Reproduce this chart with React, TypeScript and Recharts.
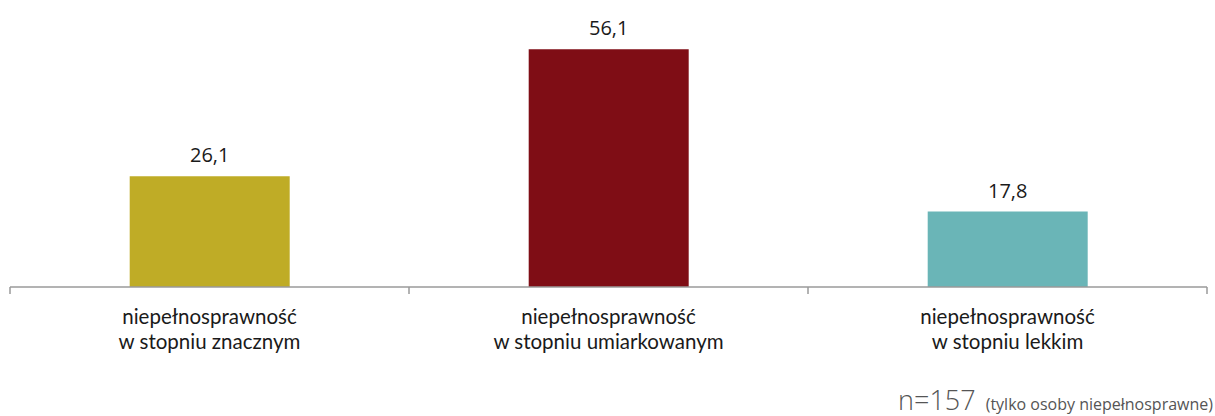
import { BarChart, Bar, XAxis, YAxis, LabelList, Cell } from "recharts";

const categories = [
    ["niepełnosprawność", "w stopniu znacznym"],
    ["niepełnosprawność", "w stopniu umiarkowanym"],
    ["niepełnosprawność", "w stopniu lekkim"],
];
const shares = [26.1, 56.1, 17.8];
const barColors = ["#BFAC26", "#7F0D15", "#6AB5B7"];

const data = categories.map((lines, i) => ({
    name: lines.join(" "),
    value: shares[i],
}));

const FONT = "'Open Sans', 'Noto Sans', sans-serif";
const LABEL_FONT = "Lato, 'Open Sans', sans-serif";
const WIDTH = 1215;
const HEIGHT = 416;
const MARGIN = { top: 0, right: 8, bottom: 128, left: 10 };
const BAND = (WIDTH - MARGIN.left - MARGIN.right) / categories.length;
const AXIS_GREY = "#9a9a9a";

// two-line category label plus the separator ticks at the band edges
function CategoryTick({ x, y, index }: any) {
    const lines = categories[index] ?? [];
    const left = x - BAND / 2;
    const right = x + BAND / 2;
    const isLast = index === categories.length - 1;
    return (
        <g>
            <line x1={left} x2={left} y1={y} y2={y + 7} stroke={AXIS_GREY} strokeWidth={1.5} />
            {isLast && <line x1={right} x2={right} y1={y} y2={y + 7} stroke={AXIS_GREY} strokeWidth={1.5} />}
            {lines.map((l, i) => (
                <text
                    key={i}
                    x={x}
                    y={y + 37 + i * 25}
                    textAnchor="middle"
                    fontFamily={LABEL_FONT}
                    fontSize={20.5}
                    fill="#1a1a1a"
                >
                    {l}
                </text>
            ))}
        </g>
    );
}

export default function App() {
    return (
        <div style={{ position: "absolute", left: 0, top: 0, width: WIDTH, height: HEIGHT, background: "#fff" }}>
            <BarChart width={WIDTH} height={HEIGHT} data={data} margin={MARGIN} barCategoryGap="30%">
                <YAxis hide domain={[0, 67.7]} allowDataOverflow />
                <XAxis
                    dataKey="name"
                    height={1}
                    axisLine={{ stroke: AXIS_GREY, strokeWidth: 1.5 }}
                    tickLine={false}
                    tickSize={0}
                    tickMargin={0}
                    interval={0}
                    tick={<CategoryTick />}
                />
                <Bar dataKey="value" isAnimationActive={false}>
                    {data.map((d, i) => (
                        <Cell key={d.name + i} fill={barColors[i]} />
                    ))}
                    <LabelList
                        dataKey="value"
                        position="top"
                        offset={14}
                        formatter={(v: any) => String(v).replace(".", ",")}
                        style={{ fontFamily: FONT, fontSize: 20, fill: "#1a1a1a" }}
                    />
                </Bar>
            </BarChart>
            <div
                style={{
                    position: "absolute",
                    right: 2,
                    bottom: -4,
                    fontFamily: FONT,
                    color: "#555",
                    whiteSpace: "nowrap",
                    lineHeight: "32px",
                }}
            >
                <span style={{ fontSize: 27, fontWeight: 300 }}>n=157</span>
                <span style={{ fontSize: 16, marginLeft: 10 }}>(tylko osoby niepełnosprawne)</span>
            </div>
        </div>
    );
}
